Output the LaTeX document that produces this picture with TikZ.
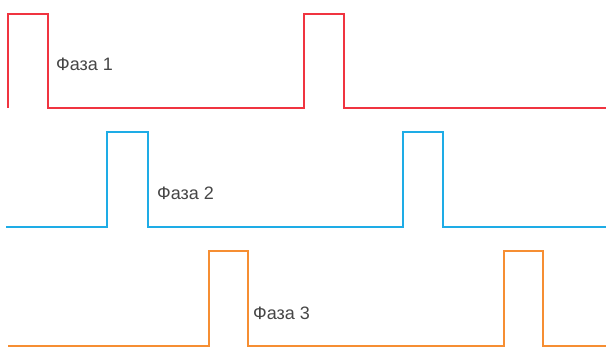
\documentclass[tikz,border=0pt]{standalone}
\usepackage{fontspec}
\setmainfont{Liberation Sans}
\definecolor{phred}{RGB}{240,52,64}
\definecolor{phblue}{RGB}{30,172,230}
\definecolor{phorange}{RGB}{246,142,50}
\definecolor{labgray}{RGB}{70,70,70}
\begin{document}
\begin{tikzpicture}[x=1pt,y=-1pt,
  wave/.style={line width=2.8pt, line join=miter},
  lab/.style={anchor=west, inner sep=0pt, text=labgray, font=\fontsize{18}{20}\selectfont}]
\useasboundingbox (0,0) rectangle (606,347);
% phase 1
\coordinate (r0) at (8,108);
\coordinate (r1) at (606,108);
\draw[wave, phred] (r0) -- (8,14) -- (48,14) -- (48,108) -- (304,108) -- (304,14) -- (344,14) -- (344,108) -- (r1);
\node[lab] (t1) at (56,64) {Фаза 1};
% phase 2
\coordinate (b0) at (6,227);
\coordinate (b1) at (606,227);
\draw[wave, phblue] (b0) -- (107,227) -- (107,132) -- (148,132) -- (148,227) -- (403,227) -- (403,132) -- (443,132) -- (443,227) -- (b1);
\node[lab] (t2) at (157,193) {Фаза 2};
% phase 3
\coordinate (o0) at (8,346);
\coordinate (o1) at (606,346);
\draw[wave, phorange] (o0) -- (209,346) -- (209,251) -- (248,251) -- (248,346) -- (504,346) -- (504,251) -- (543,251) -- (543,346) -- (o1);
\node[lab] (t3) at (253,313) {Фаза 3};
\end{tikzpicture}
\end{document}
